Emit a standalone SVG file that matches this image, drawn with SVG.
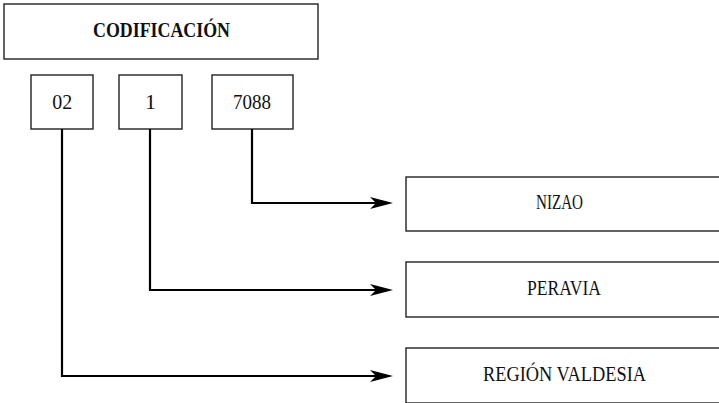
<svg xmlns="http://www.w3.org/2000/svg" width="719" height="403" viewBox="0 0 719 403">
<style>
.box{fill:#fff;stroke:#222;stroke-width:1.4}
.t{font-family:"Liberation Serif","DejaVu Serif","Times New Roman",serif;font-size:22px;fill:#111;text-anchor:middle}
.b{font-weight:bold}
.c{fill:none;stroke:#000;stroke-width:2.2}
</style>
<defs>
<marker id="ah" viewBox="0 0 23 12" refX="18" refY="6" markerWidth="23" markerHeight="12" markerUnits="userSpaceOnUse" orient="auto">
<path d="M0,0 L23,6 L0,12 L6,6 z" fill="#000"/>
</marker>
</defs>
<rect width="719" height="403" fill="#fff"/>
<g id="codificacion">
<rect class="box" x="4" y="4" width="314" height="55"/>
<text class="t b" x="161.5" y="37" textLength="137" lengthAdjust="spacingAndGlyphs">CODIFICACIÓN</text>
</g>
<g id="c02">
<rect class="box" x="31" y="75" width="62" height="54"/>
<text class="t" x="62.3" y="108.5" textLength="20" lengthAdjust="spacingAndGlyphs">02</text>
</g>
<g id="c1">
<rect class="box" x="119" y="75" width="63" height="54"/>
<text class="t" x="150.5" y="108.5">1</text>
</g>
<g id="c7088">
<rect class="box" x="212" y="75" width="81" height="54"/>
<text class="t" x="252" y="108.5" textLength="38" lengthAdjust="spacingAndGlyphs">7088</text>
</g>
<g id="nizao">
<rect class="box" x="406" y="177" width="330" height="54"/>
<text class="t" x="559.5" y="209" textLength="47" lengthAdjust="spacingAndGlyphs">NIZAO</text>
</g>
<g id="peravia">
<rect class="box" x="406" y="262" width="330" height="55"/>
<text class="t" x="564" y="295" textLength="74" lengthAdjust="spacingAndGlyphs">PERAVIA</text>
</g>
<g id="region">
<rect class="box" x="406" y="348" width="330" height="55"/>
<text class="t" x="564.5" y="380.5" textLength="163" lengthAdjust="spacingAndGlyphs">REGIÓN VALDESIA</text>
</g>
<g id="connectors">
<path class="c" d="M252,129 V203 H388" marker-end="url(#ah)"/>
<path class="c" d="M150,129 V290 H388" marker-end="url(#ah)"/>
<path class="c" d="M62,129 V376 H388" marker-end="url(#ah)"/>
</g>
</svg>
